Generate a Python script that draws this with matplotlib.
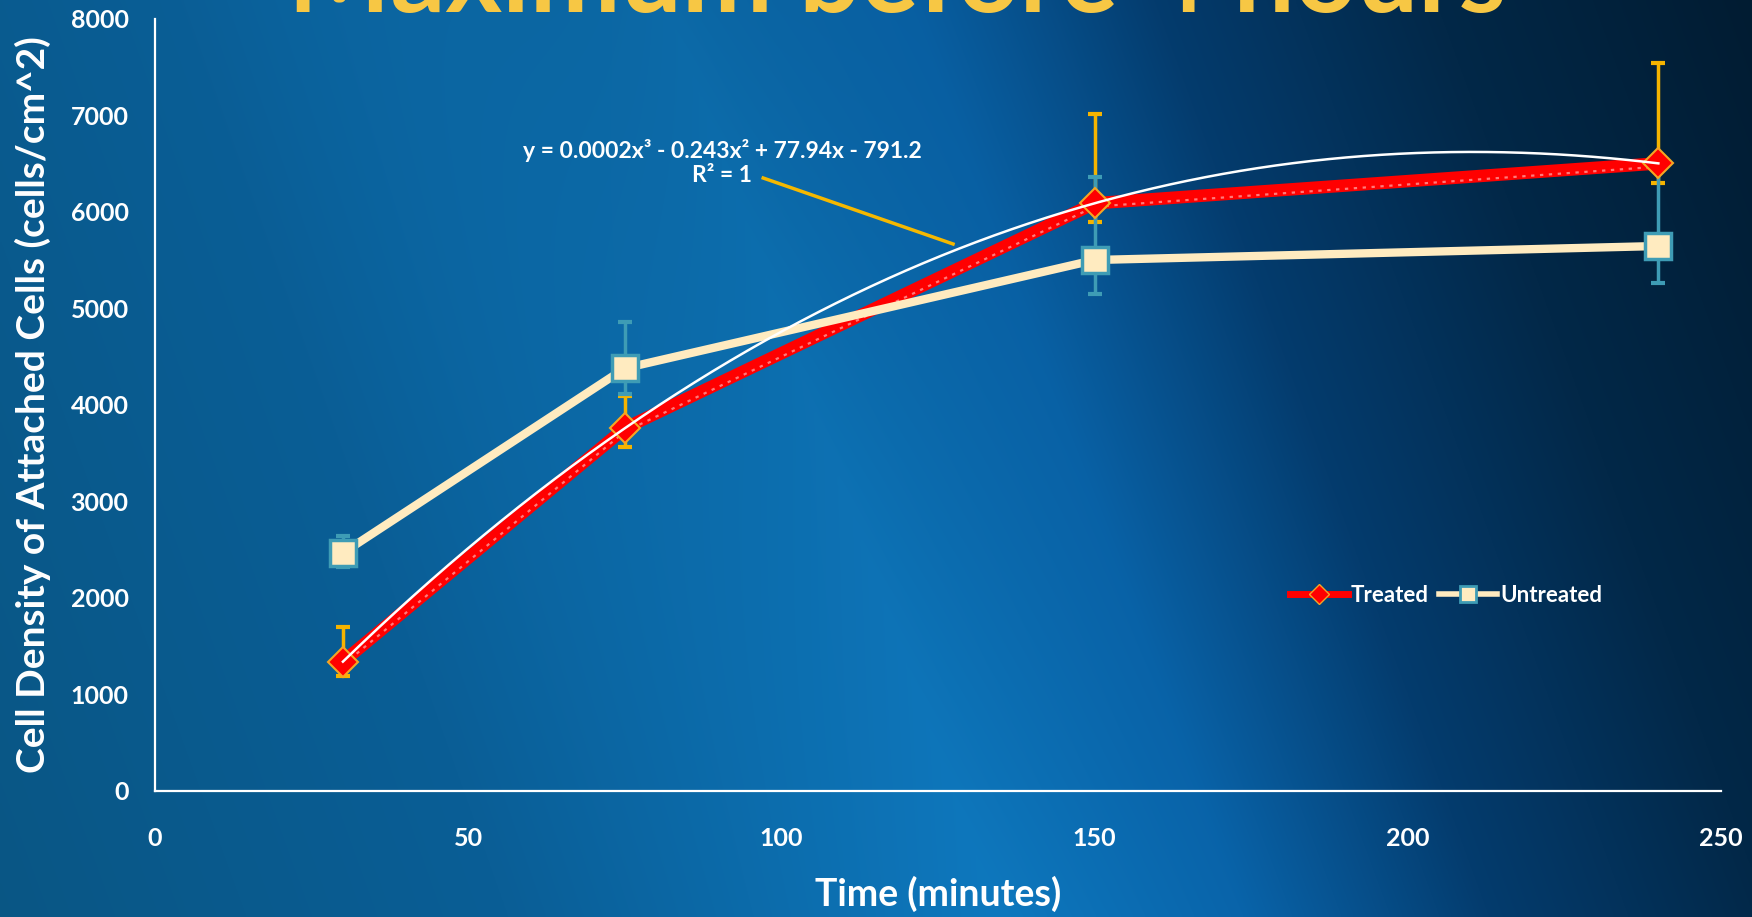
import numpy as np
import matplotlib
matplotlib.use("Agg")
import matplotlib.pyplot as plt
from matplotlib.lines import Line2D
from matplotlib.transforms import offset_copy

plt.rcParams['font.family'] = ['Lato', 'DejaVu Sans']
plt.rcParams['font.weight'] = 'bold'
plt.rcParams['axes.labelweight'] = 'bold'

# data
time_min = [30, 75, 150, 240]
treated = [1336, 3756, 6089, 6503]
treated_err_lo = [150, 190, 190, 200]
treated_err_hi = [362, 330, 926, 1044]
untreated = [2463, 4378, 5501, 5646]
untreated_err_lo = [150, 270, 356, 381]
untreated_err_hi = [176, 483, 864, 800]

x_ticks = [0, 50, 100, 150, 200, 250]
y_ticks = [0, 1000, 2000, 3000, 4000, 5000, 6000, 7000, 8000]

W, H = 1752, 917
fig = plt.figure(figsize=(W / 100, H / 100), dpi=100)

# slide background (blue gradient with a lighter diagonal band)
bg = fig.add_axes([0, 0, 1, 1], zorder=-10)
gx, gy = np.meshgrid(np.linspace(0, 1, 600), np.linspace(0, 1, 320))
u = gx - 0.19 * gy
stops = [-0.2, 0.1, 0.38, 0.52, 0.66, 0.82, 1.0]
cols = np.array([(9, 86, 132), (10, 94, 150), (14, 120, 190), (9, 100, 170),
                 (4, 60, 110), (2, 40, 72), (1, 28, 50)]) / 255.0
img = np.dstack([np.interp(u, stops, cols[:, i]) for i in range(3)])
# band is a little dimmer near the top of the slide
glow = 1 - 0.12 * np.exp(-((u - 0.38) / 0.15) ** 2) * (1 - gy)
img = np.clip(img * glow[..., None], 0, 1)
bg.imshow(img, aspect='auto', extent=[0, 1, 1, 0], interpolation='bilinear')
bg.set_axis_off()

fig.text(0.512, 1 - 12 / H, 'Maximum before 4 hours', color='#F7C744',
         fontsize=78, ha='center', va='baseline')

ax = fig.add_axes([155 / W, 1 - 790.5 / H, (1721 - 155) / W, (790.5 - 19) / H])
ax.set_facecolor('none')

ax.errorbar(time_min, treated, yerr=[treated_err_lo, treated_err_hi], fmt='none',
            ecolor='#F5B400', elinewidth=2.5, capsize=4.7, capthick=3, zorder=2)
ax.errorbar(time_min, untreated, yerr=[untreated_err_lo, untreated_err_hi], fmt='none',
            ecolor='#3E9CB5', elinewidth=2.5, capsize=4.7, capthick=3, zorder=2.5)

ax.plot(time_min, treated, color='#FF0000', lw=9, solid_capstyle='round', zorder=3)
ax.plot(time_min, treated, color='#FF7A7A', lw=1.6, dashes=(1.5, 2.5), zorder=3.1,
        transform=offset_copy(ax.transData, fig=fig, x=0, y=-2.4, units='points'))
ax.plot(time_min, treated, ls='none', marker='D', ms=15, mfc='#FF0000', mec='#F5A623',
        mew=1.5, zorder=3.2)
ax.plot(time_min, untreated, color='#FFEBC0', lw=6, marker='s', ms=19, mfc='#FFEBC0',
        mec='#3E9CB5', mew=2.5, zorder=3.5)

# third-order polynomial trendline of the treated series
coef = np.polyfit(time_min, treated, 3)
xs = np.linspace(min(time_min), max(time_min), 300)
ax.plot(xs, np.polyval(coef, xs), color='white', lw=1.8, zorder=4)

ax.text(90.5, 6512, 'y = 0.0002x³ - 0.243x² + 77.94x - 791.2\nR² = 1',
        color='white', fontsize=16.5, ha='center', va='center', multialignment='center',
        linespacing=1.15, zorder=5)
ax.plot([97.1, 127.4], [6351, 5667], color='#F5B800', lw=2.5, zorder=5)

ax.set_xlim(0, 250)
ax.set_ylim(0, 8000)
ax.set_xticks(x_ticks)
ax.set_yticks(y_ticks)
ax.tick_params(length=0, labelcolor='white', labelsize=18)
ax.tick_params(axis='y', pad=19)
ax.tick_params(axis='x', pad=26)
for s in ['top', 'right']:
    ax.spines[s].set_visible(False)
for s in ['left', 'bottom']:
    ax.spines[s].set_color('white')
    ax.spines[s].set_linewidth(1.6)

ax.set_xlabel('Time (minutes)', color='white', fontsize=27, va='center')
ax.xaxis.set_label_coords(0.5, -0.134)
ax.set_ylabel('Cell Density of Attached Cells (cells/cm^2)', color='white',
              fontsize=28, va='center')
ax.yaxis.set_label_coords(-0.078, 0.5)

handles = [
    Line2D([], [], color='#FF0000', lw=5, marker='D', ms=10, mfc='#FF0000', mec='#F5A623'),
    Line2D([], [], color='#FFEBC0', lw=4, marker='s', ms=11, mfc='#FFEBC0', mec='#3E9CB5',
           mew=2),
]
leg = ax.legend(handles, ['Treated', 'Untreated'], loc='center left', ncol=2,
                bbox_to_anchor=(1290 / W, 1 - 595 / H), bbox_transform=fig.transFigure,
                frameon=False, fontsize=16, handlelength=2.6, handletextpad=0.15,
                columnspacing=0.45, borderpad=0, borderaxespad=0)
for t in leg.get_texts():
    t.set_color('white')

fig.savefig('out.png', dpi=100)
